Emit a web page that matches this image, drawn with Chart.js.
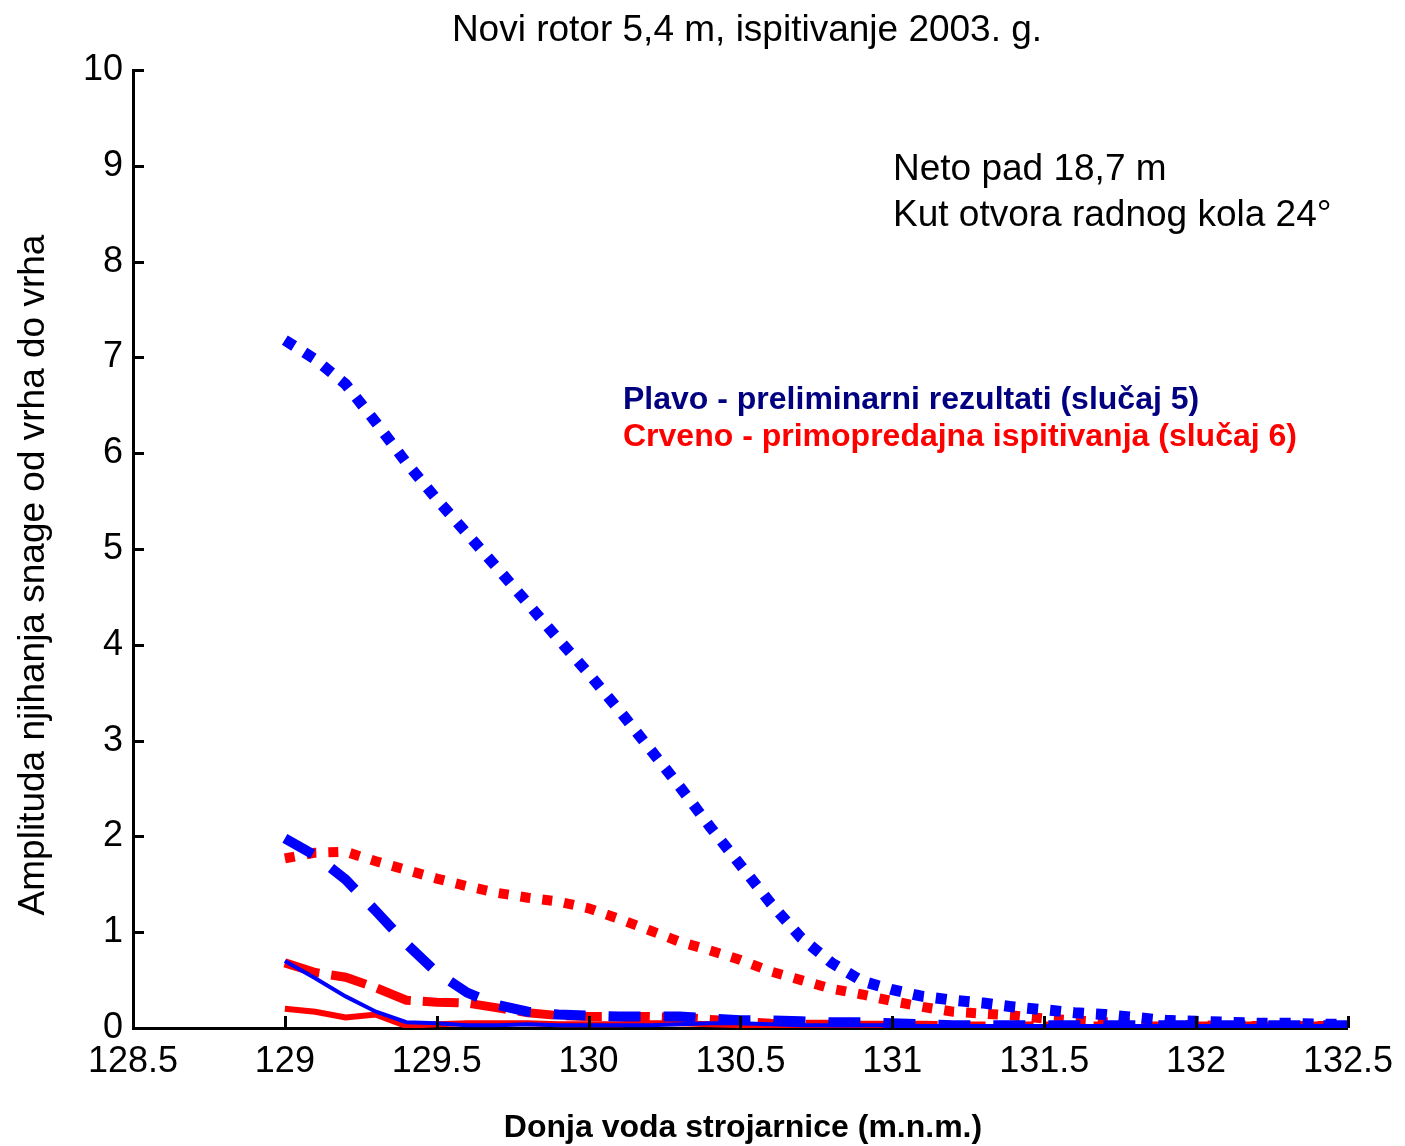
<!DOCTYPE html>
<html>
<head>
<meta charset="utf-8">
<script src="https://cdn.jsdelivr.net/npm/chart.js@4.4.0/dist/chart.umd.min.js"></script>
<style>
  body { margin: 0; background: #fff; }
  #wrap { width: 1405px; height: 1146px; }
</style>
</head>
<body>
<div id="wrap"><canvas id="rotorChart" width="1405" height="1146"></canvas></div>
<script>
// donja voda (m.n.m.)
const levels = [129.0, 129.1, 129.2, 129.3, 129.4, 129.5, 129.6, 129.7, 129.8, 129.9,
                130.0, 130.1, 130.2, 130.3, 130.4, 130.5, 130.6, 130.7, 130.8, 130.9,
                131.0, 131.1, 131.2, 131.3, 131.4, 131.5, 131.6, 131.7, 131.8, 131.9,
                132.0, 132.1, 132.2, 132.3, 132.4, 132.5];

// plavo - slucaj 5
const blueDotted = [7.18, 6.98, 6.72, 6.32, 5.90, 5.52, 5.16, 4.80, 4.43, 4.06,
                    3.70, 3.32, 2.92, 2.52, 2.10, 1.70, 1.30, 0.94, 0.68, 0.49,
                    0.40, 0.33, 0.29, 0.26, 0.22, 0.19, 0.16, 0.14, 0.11, 0.08,
                    0.07, 0.06, 0.05, 0.05, 0.04, 0.04];
const blueDashed = [1.98, 1.80, 1.55, 1.22, 0.88, 0.58, 0.37, 0.24, 0.17, 0.14,
                    0.13, 0.12, 0.12, 0.12, 0.10, 0.08, 0.08, 0.07, 0.06, 0.06,
                    0.05, 0.04, 0.03, 0.03, 0.03, 0.03, 0.03, 0.03, 0.03, 0.03,
                    0.03, 0.03, 0.03, 0.03, 0.03, 0.03];
const blueSolid = [0.70, 0.52, 0.33, 0.17, 0.06, 0.05, 0.03, 0.03, 0.04, 0.03,
                   0.03, 0.03, 0.03, 0.04, 0.05, 0.05, 0.04, 0.03, 0.03, 0.03,
                   0.03, 0.02, 0.02, 0.02, 0.02, 0.02, 0.02, 0.02, 0.02, 0.02,
                   0.02, 0.02, 0.02, 0.02, 0.02, 0.03];

// crveno - slucaj 6
const redDotted = [1.77, 1.83, 1.84, 1.74, 1.65, 1.56, 1.48, 1.41, 1.36, 1.32,
                   1.25, 1.14, 1.02, 0.90, 0.81, 0.71, 0.59, 0.50, 0.41, 0.35,
                   0.28, 0.22, 0.17, 0.15, 0.13, 0.10, 0.08, 0.06, 0.05, 0.03,
                   0.03, 0.02, 0.02, 0.02, 0.02, 0.02];
const redDashed = [0.68, 0.58, 0.53, 0.42, 0.29, 0.27, 0.26, 0.21, 0.16, 0.13,
                   0.12, 0.12, 0.12, 0.11, 0.09, 0.07, 0.05, 0.04, 0.04, 0.03,
                   0.03, 0.03, 0.02, 0.02, 0.02, 0.02, 0.02, 0.02, 0.02, 0.02,
                   0.02, 0.02, 0.02, 0.02, 0.02, 0.02];
const redSolid = [0.20, 0.17, 0.11, 0.14, 0.02, 0.04, 0.05, 0.05, 0.05, 0.04,
                  0.04, 0.04, 0.05, 0.05, 0.04, 0.03, 0.02, 0.02, 0.02, 0.02,
                  0.01, 0.01, 0.01, 0.01, 0.01, 0.01, 0.01, 0.01, 0.01, 0.01,
                  0.01, 0.01, 0.01, 0.01, 0.01, 0.01];

const xTicks = [128.5, 129, 129.5, 130, 130.5, 131, 131.5, 132, 132.5];
const yTicks = [0, 1, 2, 3, 4, 5, 6, 7, 8, 9, 10];

const FONT = '"Liberation Sans", Arial, sans-serif';
const BLUE = '#0000ff';
const RED = '#ff0000';

function pts(values) {
    return values.map((v, i) => ({ x: levels[i], y: v }));
}

function line(values, color, width, dash) {
    return {
        data: pts(values),
        borderColor: color,
        backgroundColor: color,
        borderWidth: width,
        borderDash: dash,
        borderCapStyle: 'butt',
        borderJoinStyle: 'miter',
        pointRadius: 0,
        tension: 0,
        fill: false
    };
}

// ticks pointing into the plot + all the free text
const decorations = {
    id: 'decorations',
    afterDraw(chart) {
        const ctx = chart.ctx;
        const area = chart.chartArea;
        const xs = chart.scales.x;
        const ys = chart.scales.y;
        ctx.save();

        ctx.strokeStyle = '#000';
        ctx.lineWidth = 3;
        ctx.beginPath();
        yTicks.forEach(v => {
            const py = Math.round(ys.getPixelForValue(v)) + 0.5;
            ctx.moveTo(area.left, py);
            ctx.lineTo(area.left + 11, py);
        });
        xTicks.forEach(v => {
            const px = Math.round(xs.getPixelForValue(v)) + 0.5;
            ctx.moveTo(px, area.bottom);
            ctx.lineTo(px, area.bottom - 12);
        });
        ctx.stroke();

        ctx.fillStyle = '#000';
        ctx.textBaseline = 'alphabetic';

        ctx.font = '37px ' + FONT;
        ctx.textAlign = 'center';
        ctx.fillText('Novi rotor 5,4 m, ispitivanje 2003. g.', 747, 41);

        ctx.textAlign = 'left';
        ctx.fillText('Neto pad 18,7 m', 893, 180);
        ctx.fillText('Kut otvora radnog kola 24°', 893, 226);

        ctx.font = 'bold 32px ' + FONT;
        ctx.fillStyle = '#000080';
        ctx.fillText('Plavo - preliminarni rezultati (slučaj 5)', 623, 409);
        ctx.fillStyle = RED;
        ctx.fillText('Crveno - primopredajna ispitivanja (slučaj 6)', 623, 446);

        ctx.fillStyle = '#000';
        ctx.font = 'bold 32px ' + FONT;
        ctx.textAlign = 'center';
        ctx.fillText('Donja voda strojarnice (m.n.m.)', 743, 1137);

        ctx.font = '37px ' + FONT;
        ctx.translate(44, 575);
        ctx.rotate(-Math.PI / 2);
        ctx.fillText('Amplituda njihanja snage od vrha do vrha', 0, 0);

        ctx.restore();
    }
};

new Chart(document.getElementById('rotorChart'), {
    type: 'line',
    data: {
        datasets: [
            line(blueSolid, BLUE, 4, []),
            line(blueDashed, BLUE, 10, [32, 23]),
            line(blueDotted, BLUE, 11, [11, 12]),
            line(redSolid, RED, 6, []),
            line(redDashed, RED, 9, [36, 12]),
            line(redDotted, RED, 10, [10, 12])
        ]
    },
    options: {
        responsive: false,
        animation: false,
        layout: { padding: { left: 0, top: 70, right: 55, bottom: 0 } },
        plugins: {
            legend: { display: false },
            tooltip: { enabled: false },
            title: { display: false }
        },
        scales: {
            x: {
                type: 'linear',
                min: 128.5,
                max: 132.5,
                afterFit(scale) { scale.height = 118; },
                afterBuildTicks(scale) { scale.ticks = xTicks.map(v => ({ value: v })); },
                ticks: {
                    color: '#000',
                    font: { family: FONT, size: 36 },
                    padding: 12,
                    maxRotation: 0,
                    autoSkip: false,
                    callback: v => String(v)
                },
                grid: { display: true, drawOnChartArea: false, drawTicks: false },
                border: { display: true, color: '#000', width: 3 }
            },
            y: {
                type: 'linear',
                min: 0,
                max: 10,
                afterFit(scale) { scale.width = 133; },
                afterBuildTicks(scale) { scale.ticks = yTicks.map(v => ({ value: v })); },
                ticks: {
                    color: '#000',
                    font: { family: FONT, size: 36 },
                    padding: 10,
                    autoSkip: false,
                    callback: v => String(v)
                },
                grid: { display: true, drawOnChartArea: false, drawTicks: false },
                border: { display: true, color: '#000', width: 3 }
            }
        }
    },
    plugins: [decorations]
});
</script>
</body>
</html>
